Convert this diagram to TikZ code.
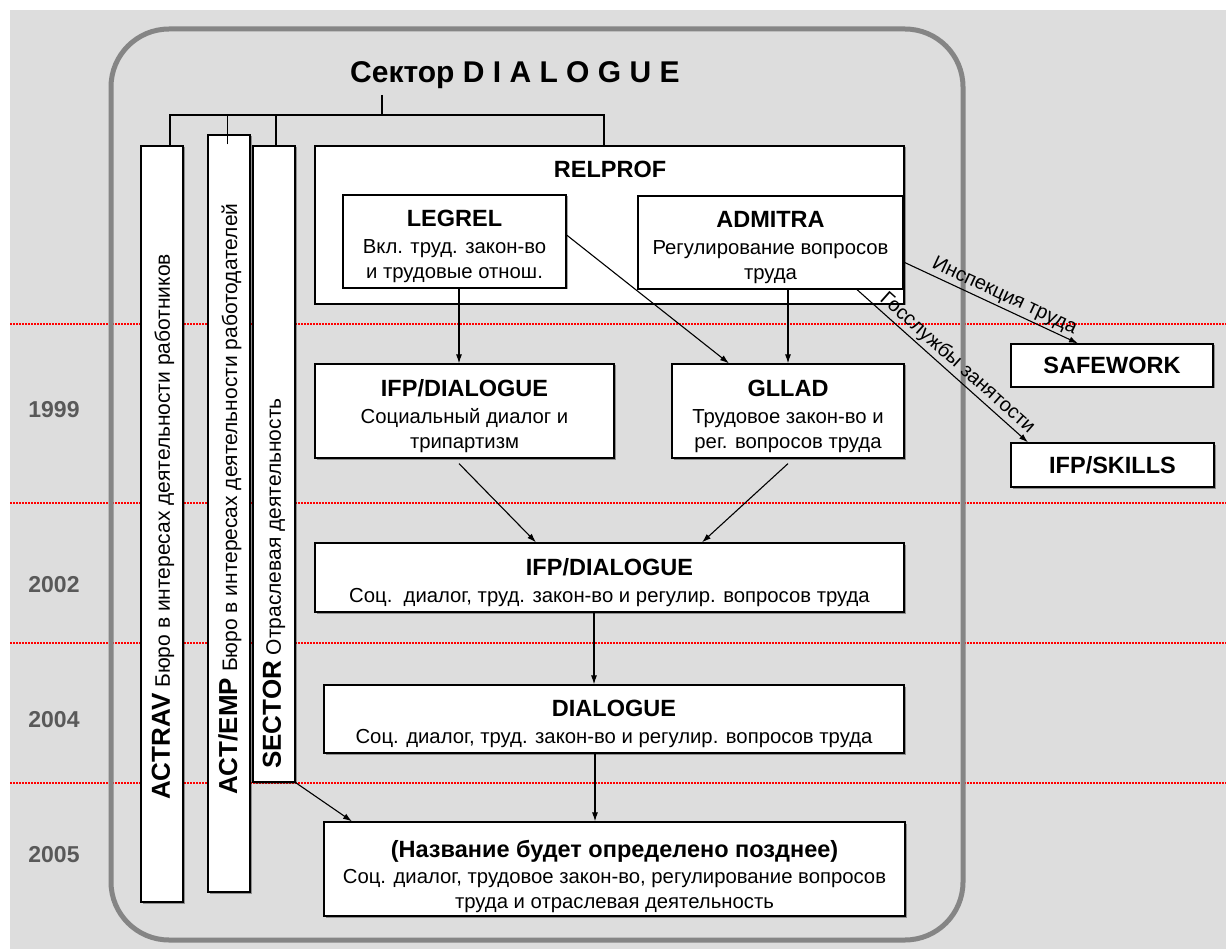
\documentclass[tikz,border=0pt]{standalone}
\usepackage{fontspec}
\setmainfont{Liberation Sans}
\usetikzlibrary{arrows.meta,shadows}
\definecolor{bggray}{HTML}{DDDDDD}
\definecolor{framegray}{HTML}{858585}
\definecolor{yeargray}{HTML}{595959}
\definecolor{dotred}{HTML}{FF0000}
\newcommand{\bxt}[1]{{\bfseries\fontsize{23.5}{23.5}\selectfont #1}}
\begin{document}
\begin{tikzpicture}[x=1pt,y=-1pt,
  box/.style={draw=black, line width=1.2pt, fill=white, inner sep=0pt,
    drop shadow={shadow xshift=1.5pt, shadow yshift=-1.5pt, fill=black, opacity=0.35}},
  boxtext/.style={inner sep=0pt, align=center, font=\fontsize{20.3}{25}\selectfont},
  ttl/.style={font=\fontsize{23.5}{26}\selectfont\bfseries},
  bartext/.style={rotate=90, anchor=west, inner sep=0pt, font=\fontsize{21}{24}\selectfont},
  year/.style={text=yeargray, font=\fontsize{23}{26}\selectfont\bfseries},
  reddot/.style={dotred, line width=1.5pt, dash pattern=on 1.5pt off 1.5pt},
  conn/.style={draw=black, line width=1.1pt},
  arr/.style={conn, -{Latex[length=9pt,width=6pt]}},
  diaglab/.style={font=\fontsize{20}{24}\selectfont, sloped, above, inner sep=2pt}
]
\useasboundingbox (0,0) rectangle (1226,949);
\fill[white] (0,0) rectangle (1226,949);
\fill[bggray] (10,10) rectangle (1226,949);
% dotted year separators
\draw[reddot] (10,324) -- (1226,324);
\draw[reddot] (10,503) -- (1226,503);
\draw[reddot] (10,643) -- (1226,643);
\draw[reddot] (10,783) -- (1226,783);
% frame
\draw[framegray, line width=5pt, rounded corners=58pt] (111,29) rectangle (963,940);
% title
\node[font=\fontsize{30}{34}\selectfont\bfseries, anchor=base west, inner sep=0pt] (title) at (350,83) {Сектор D I A L O G U E};
\coordinate (tt) at (382,95);
\coordinate (bus) at (382,115);
% vertical bars
\node[box, minimum width=42pt, minimum height=756pt] (actrav) at (162,524) {};
\node[box, minimum width=42pt, minimum height=757pt] (actemp) at (229,513.5) {};
\node[box, minimum width=42pt, minimum height=636pt] (sector) at (274,464) {};
\node[bartext] (actravtxt) at (163,800) {{\fontsize{26}{26}\selectfont\bfseries ACTRAV} Бюро в интересах деятельности работников};
\node[bartext] (actemptxt) at (230,795) {{\fontsize{26}{26}\selectfont\bfseries ACT/EMP} Бюро в интересах деятельности работодателей};
\node[bartext] (sectortxt) at (274,769) {{\fontsize{26}{26}\selectfont\bfseries SECTOR} Отраслевая деятельность};
% RELPROF group
\node[box, minimum width=589pt, minimum height=158pt] (relprof) at (609.5,225) {};
\node[ttl, anchor=north] (relproft) at (610,158) {RELPROF};
\node[box, minimum width=223pt, minimum height=93pt] (legrel) at (454.5,241.5) {};
\node[boxtext] (legrelt) at ([yshift=-5pt]legrel.center)
  {\bxt{LEGREL}\\[2pt] Вкл. труд. закон-во\\ и трудовые отнош.};
\node[box, minimum width=265pt, minimum height=93pt] (admitra) at (770.5,242.5) {};
\node[boxtext] (admitrat) at ([yshift=-5pt]admitra.center)
  {\bxt{ADMITRA}\\[2pt] Регулирование вопросов\\ труда};
% 1999
\node[box, minimum width=299pt, minimum height=94pt] (ifpd1) at (464.5,411) {};
\node[boxtext] (ifpd1t) at ([yshift=-5pt]ifpd1.center)
  {\bxt{IFP/DIALOGUE}\\[2pt] Социальный диалог и\\ трипартизм};
\node[box, minimum width=232pt, minimum height=94pt] (gllad) at (788,411) {};
\node[boxtext] (glladt) at ([yshift=-5pt]gllad.center)
  {\bxt{GLLAD}\\[2pt] Трудовое закон-во и\\ рег. вопросов труда};
% 2002
\node[box, minimum width=589pt, minimum height=69pt] (ifpd2) at (609.5,577.5) {};
\node[boxtext] (ifpd2t) at ([yshift=-5pt]ifpd2.center)
  {\bxt{IFP/DIALOGUE}\\[2pt] Соц.\ \ диалог, труд. закон-во и регулир. вопросов труда};
% 2004
\node[box, minimum width=580pt, minimum height=68pt] (dialogue) at (614,719) {};
\node[boxtext] (dialoguet) at ([yshift=-5pt]dialogue.center)
  {\bxt{DIALOGUE}\\[2pt] Соц. диалог, труд. закон-во и регулир. вопросов труда};
% 2005
\node[box, minimum width=581pt, minimum height=94pt] (final) at (614.5,869) {};
\node[boxtext] (finalt) at ([yshift=-7pt]final.center)
  {\bxt{(Название будет определено позднее)}\\[1pt] Соц. диалог, трудовое закон-во, регулирование вопросов\\ труда и отраслевая деятельность};
% outside boxes
\node[box, minimum width=202pt, minimum height=43pt, font=\fontsize{23.5}{23.5}\selectfont\bfseries] (safework) at (1112,365.5) {SAFEWORK};
\node[box, minimum width=203pt, minimum height=44pt, font=\fontsize{23.5}{23.5}\selectfont\bfseries] (skills) at (1112.5,465) {IFP/SKILLS};
% years
\node[year] (y1999) at (54,410) {1999};
\node[year] (y2002) at (54,585) {2002};
\node[year] (y2004) at (54,720) {2004};
\node[year] (y2005) at (54,855) {2005};
% tree
\draw[conn] (tt) -- (bus);
\draw[conn] ([xshift=8pt]actrav.north) |- (bus) -| ([xshift=-5.5pt]relprof.north);
\draw[conn] ([xshift=-1.5pt,yshift=-10pt]actemp.north) -- ([xshift=-1.5pt]actemp.north |- bus);
\draw[conn] ([xshift=2pt]sector.north) -- ([xshift=2pt]sector.north |- bus);
% arrows
\draw[arr] ([xshift=4.5pt]legrel.south) -- ([xshift=4.5pt]legrel.south |- ifpd1.north);
\draw[arr] ([yshift=6.5pt]legrel.east) -- ([xshift=-59pt]gllad.north);
\draw[arr] (admitra.south -| gllad.north) -- (gllad.north);
\draw[arr] ([yshift=-19.5pt]admitra.east) -- node[diaglab, pos=0.55] (inspl) {Инспекция труда} ([xshift=-34pt]safework.north);
\draw[arr] ([xshift=86.5pt]admitra.south) -- node[diaglab, pos=0.54] (gosl) {Госслужбы занятости} ([xshift=-84.5pt]skills.north);
\draw[arr] ([xshift=-5.5pt,yshift=-5pt]ifpd1.south) -- ([xshift=-73.5pt]ifpd2.north);
\draw[arr] ([yshift=-5pt]gllad.south) -- ([xshift=92.5pt]ifpd2.north);
\draw[arr] ([xshift=-15.5pt]ifpd2.south) -- ([xshift=-15.5pt]ifpd2.south |- dialogue.north);
\draw[arr] ([xshift=-19pt]dialogue.south) -- ([xshift=-19pt]dialogue.south |- final.north);
\draw[arr] (sector.south east) -- ([xshift=-262.5pt]final.north);
\end{tikzpicture}
\end{document}
